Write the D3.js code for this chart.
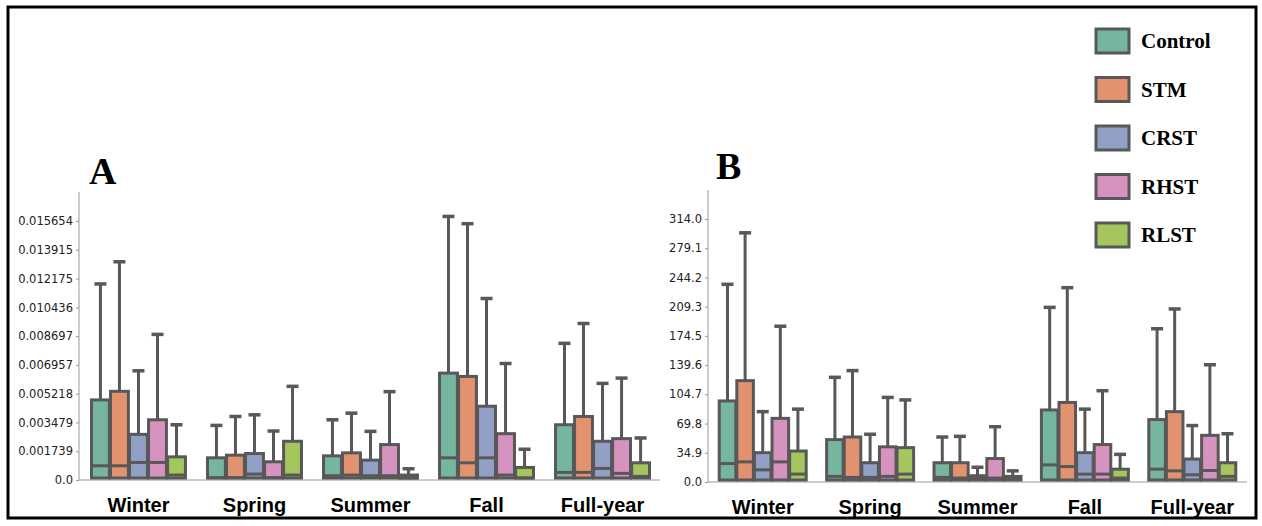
<!DOCTYPE html>
<html><head><meta charset="utf-8">
<script src="https://cdn.jsdelivr.net/npm/d3@7"></script>
<style>body{margin:0;background:#fff}</style></head>
<body><svg id="c" width="1262" height="526"></svg>
<script>
const seasons=["Winter","Spring","Summer","Fall","Full-year"];
const groups=["Control","STM","CRST","RHST","RLST"];
const colors=["#76b69f","#e39270","#93a0c6","#d693c0","#a4c65c"];
const ticksA=[0,0.001739,0.003479,0.005218,0.006957,0.008697,0.010436,0.012175,0.013915,0.015654];
const tickLabelsA=["0.0","0.001739","0.003479","0.005218","0.006957","0.008697","0.010436","0.012175","0.013915","0.015654"];
const ticksB=[0,34.9,69.8,104.7,139.6,174.5,209.3,244.2,279.1,314.0];
// per season, per group: whisker top, q3, median
const whiskA=[[0.01185,0.01319,0.0066,0.0088,0.00334],[0.0033,0.00384,0.00394,0.00296,0.00566],[0.00364,0.00404,0.00294,0.00534,0.00068],[0.01593,0.01549,0.01097,0.00704,0.00186],[0.00826,0.00946,0.00584,0.00616,0.00254]];
const q3A=[[0.00484,0.00536,0.00276,0.00364,0.0014],[0.00134,0.0015,0.0016,0.0011,0.00234],[0.00146,0.00164,0.0012,0.00214,0.0003],[0.00646,0.00626,0.00446,0.0028,0.00076],[0.00334,0.00384,0.00234,0.0025,0.00104]];
const medA=[[0.00086,0.00086,0.00106,0.00106,0.0003],[0.00014,0.00014,0.00036,0.00014,0.0003],[0.00026,0.0003,0.00026,0.00026,0.00012],[0.00134,0.00104,0.00134,0.0003,0.00012],[0.00046,0.00046,0.0007,0.0004,0.00022]];
const whiskB=[[236,297.5,84,186,87],[125,133,57,101,98],[53.7,54.5,17.6,66,13.3],[208.5,232,87,109,33],[183,206.6,67.4,140,57.6]];
const q3B=[[96.8,121,35,76,37],[50.6,53.7,23,42,41],[23,23,7.5,28,6.7],[86,95,35,44.7,15.3],[74.5,84,27.4,55.7,23]];
const medB=[[22,24,14.5,24,9.4],[6.7,5.5,5.5,6.7,9.4],[5.5,4.7,4.7,4.7,3.9],[20.4,18.4,9.4,9.4,4.7],[15.3,13.3,8.6,13.7,6.7]];

const svg=d3.select("#c");
svg.append("rect").attr("x",8).attr("y",7).attr("width",1248).attr("height",511).attr("fill","none").attr("stroke","#000").attr("stroke-width",3);

function panel(o){
  const y=d3.scaleLinear().domain([0,o.tmax]).range([o.base,o.ttop]);
  const x0=d3.scaleBand().domain(seasons).range([o.x0,o.x1]).paddingInner(0.19).paddingOuter(0.03);
  const x1=d3.scaleBand().domain(groups).range([0,x0.bandwidth()]).paddingInner(0.06);
  const g=svg.append("g");
  const ax=g.append("g").attr("transform",`translate(${o.ax},0)`).call(d3.axisLeft(y).tickValues(o.ticks).tickFormat((d,i)=>o.labels[i]).tickSize(3));
  ax.select(".domain").attr("d",`M0,${o.base}V${o.top}`).attr("stroke","#999");
  ax.selectAll("text").attr("font-family","DejaVu Sans").attr("font-size",11.5).attr("fill","#222");
  ax.selectAll("line").attr("stroke","#999");
  g.append("line").attr("x1",o.ax).attr("x2",o.xend).attr("y1",o.base).attr("y2",o.base).attr("stroke","#999");
  seasons.forEach((s,i)=>{
    groups.forEach((gr,j)=>{
      const xx=x0(s)+x1(gr), w=x1.bandwidth(), cx=xx+w/2;
      const wt=o.w[i][j],q3=o.q[i][j],md=o.m[i][j];
      g.append("line").attr("x1",cx).attr("x2",cx).attr("y1",y(q3)).attr("y2",y(wt)).attr("stroke","#585858").attr("stroke-width",3);
      g.append("line").attr("x1",cx-6).attr("x2",cx+6).attr("y1",y(wt)).attr("y2",y(wt)).attr("stroke","#585858").attr("stroke-width",3.5);
      g.append("rect").attr("x",xx).attr("y",y(q3)).attr("width",w).attr("height",y(0)-2-y(q3)).attr("fill",colors[j]).attr("stroke","#585858").attr("stroke-width",3);
      g.append("line").attr("x1",xx).attr("x2",xx+w).attr("y1",y(md)).attr("y2",y(md)).attr("stroke","#585858").attr("stroke-width",3);
    });
    g.append("text").attr("x",x0(s)+x0.bandwidth()/2).attr("y",o.base+o.ly).attr("text-anchor","middle")
     .attr("font-family","Liberation Sans").attr("font-weight","bold").attr("font-size",20).text(s);
  });
  g.append("text").attr("x",o.lx).attr("y",o.lyy).attr("font-family","Liberation Serif").attr("font-weight","bold").attr("font-size",38).text(o.name);
}
panel({name:"A",lx:89,lyy:184,ax:79,x0:88,x1:653,xend:660,base:480,top:192,ttop:221,tmax:0.015654,ticks:ticksA,labels:tickLabelsA,w:whiskA,q:q3A,m:medA,ly:32});
panel({name:"B",lx:716,lyy:179,ax:708,x0:716,x1:1239,xend:1247,base:482,top:190,ttop:219,tmax:314.0,ticks:ticksB,labels:ticksB.map(d=>d.toFixed(1)),w:whiskB,q:q3B,m:medB,ly:32});

const lg=svg.append("g");
groups.forEach((gr,j)=>{
  const yy=29+j*48.5;
  lg.append("rect").attr("x",1096).attr("y",yy).attr("width",33).attr("height",24).attr("fill",colors[j]).attr("stroke","#585858").attr("stroke-width",3);
  lg.append("text").attr("x",1141).attr("y",yy+19).attr("font-family","Liberation Serif").attr("font-weight","bold").attr("font-size",21).text(gr);
});
</script></body></html>
